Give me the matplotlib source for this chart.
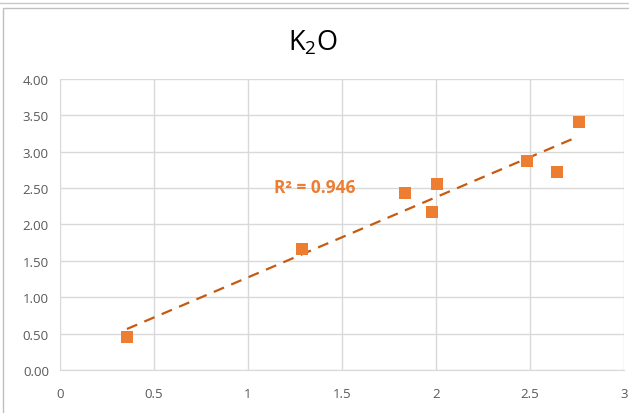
import matplotlib.pyplot as plt
import numpy as np
from matplotlib.patches import Rectangle

# values
x_vals = [0.356, 1.289, 1.837, 1.980, 2.007, 2.482, 2.644, 2.759]
y_vals = [0.458, 1.659, 2.430, 2.170, 2.557, 2.877, 2.726, 3.413]
x_ticks = [0, 0.5, 1, 1.5, 2, 2.5, 3]
x_tick_labels = ["0", "0.5", "1", "1.5", "2", "2.5", "3"]
y_ticks = [0, 0.5, 1, 1.5, 2, 2.5, 3, 3.5, 4]
r2_label = "R² = 0.946"

plt.rcParams['font.family'] = ['Open Sans', 'DejaVu Sans']
plt.rcParams['mathtext.default'] = 'regular'

fig = plt.figure(figsize=(6.29, 4.14), dpi=100)
ax = fig.add_axes([0.0954, 0.1039, 0.8966, 0.7029])

# chart border
fig.patches.append(Rectangle((0.005, -0.01), 1.2, 0.988, transform=fig.transFigure,
                             fill=False, edgecolor="#bfbfbf", linewidth=1))
fig.lines.append(plt.Line2D([0, 1], [0.99, 0.99], transform=fig.transFigure,
                            color="#c8c8c8", linewidth=1))

ax.scatter(x_vals, y_vals, marker="s", s=68, color="#ED7D31", zorder=3, linewidths=0)

# linear trendline
coef = np.polyfit(x_vals, y_vals, 1)
xs = np.array([min(x_vals), max(x_vals)])
ax.plot(xs, np.polyval(coef, xs), linestyle=(0, (5, 3.5)), color="#C55A11", linewidth=1.6, zorder=2)

ax.text(1.14, 2.45, r2_label, color="#ED7D31", fontsize=12.5, fontweight="bold")

ax.set_xlim(0, 3)
ax.set_ylim(0, 4)
ax.set_xticks(x_ticks)
ax.set_xticklabels(x_tick_labels)
ax.set_yticks(y_ticks)
ax.set_yticklabels([f"{v:.2f}" for v in y_ticks])
ax.tick_params(length=0, colors="#595959", labelsize=9.5)
ax.tick_params(axis="x", pad=12)
ax.tick_params(axis="y", pad=8)
ax.grid(True, color="#d9d9d9", linewidth=1)
ax.set_axisbelow(True)
for s in ax.spines.values():
    s.set_visible(False)
ax.spines["bottom"].set_visible(True)
ax.spines["bottom"].set_color("#d9d9d9")

fig.text(0.497, 0.895, "K$_2$O", ha="center", va="center", fontsize=19.5, color="#000000")

fig.savefig("out.png", dpi=100)
